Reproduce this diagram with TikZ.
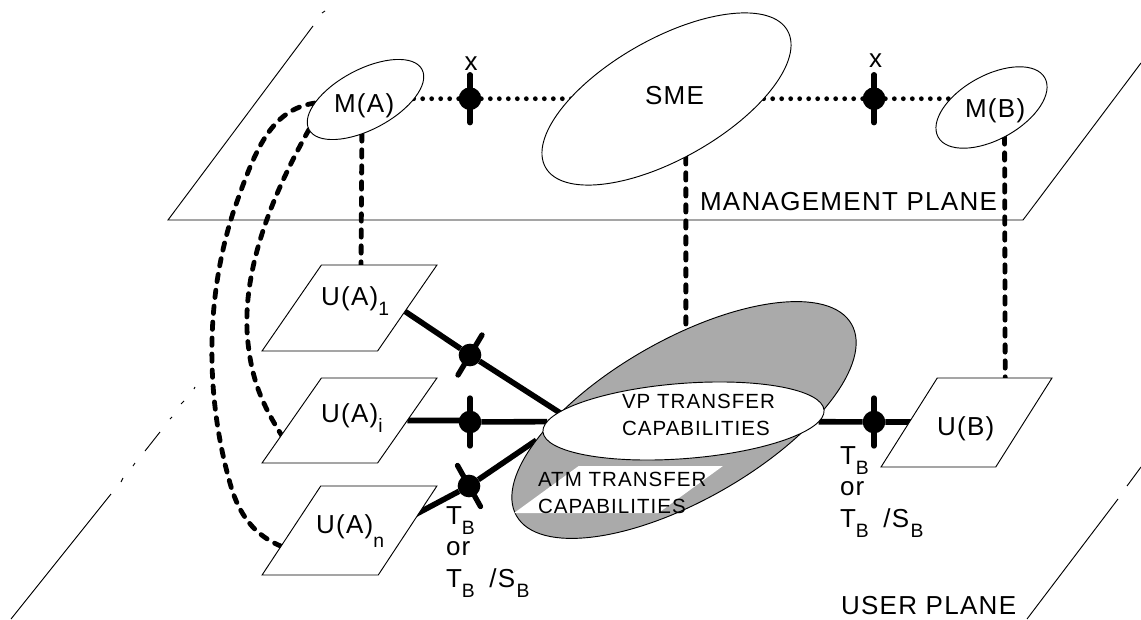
\documentclass[tikz,border=0pt]{standalone}
\usepackage{fontspec}
\setmainfont{Liberation Sans}[LetterSpace=5]
\usetikzlibrary{shapes.geometric, backgrounds}
\newcommand{\lowtxt}[2]{\smash{\raisebox{-#1}{\fontsize{14.5}{14.5}\selectfont #2}}}
\newcommand{\tbtxt}{T\lowtxt{7.5pt}{B}}

\begin{document}
\begin{tikzpicture}[x=0.75pt, y=-0.75pt,
  oval/.style={ellipse, draw, fill=white, line width=0.7pt, inner sep=0pt, outer sep=0pt},
  slab/.style={trapezium, draw, fill=white, line width=0.7pt, inner sep=0pt, outer sep=0pt, trapezium stretches=true},
  dot/.style={circle, fill=black, minimum size=17pt, inner sep=0pt, outer sep=0pt},
  lbl/.style={inner sep=0pt, outer sep=0pt, anchor=base west, align=left, font=\fontsize{19.5}{23.6}\selectfont},
  lblsmall/.style={inner sep=0pt, outer sep=0pt, anchor=base west, align=left, font=\fontsize{15.4}{19.8}\selectfont},
  planeline/.style={line width=0.7pt},
  dashline/.style={line width=3.6pt, line cap=round, dash pattern=on 5.5pt off 6.5pt},
  dotline/.style={line width=3.6pt, line cap=round, dash pattern=on 0pt off 6.75pt},
  heavy/.style={line width=4.2pt},
  tick/.style={line width=4pt, line cap=round}]
  \definecolor{grisCap}{RGB}{170,170,170}
  \useasboundingbox (0,0) rectangle (1141,620);

  % planes
  \draw[planeline] (325,11) -- (322,13);
  \draw[planeline] (1141,63) -- (1023,220) -- (168,220) -- (313,26);
  \draw[planeline] (11,619) -- (111,494);
  \foreach \xa/\ya/\xb/\yb in {121/482/123/478, 133/466/135/463, 145/451/160/432, 170/419/172/417, 181/404/184/401, 194/389/195/387}
    \draw[planeline] (\xa,\ya) -- (\xb,\yb);
  \draw[planeline] (1027,619) -- (1118,499);
  \draw[planeline] (1127,486) -- (1141,467);

  % management plane
  \node[oval, rotate=28, minimum width=96pt, minimum height=45pt] (ma) at (365.5,99.5) {};
  \node[oval, rotate=29.5, minimum width=208.5pt, minimum height=90pt] (sme) at (666.5,99) {};
  \node[oval, rotate=29, minimum width=91.5pt, minimum height=48pt] (mb) at (991.5,107.5) {};
  \node[dot] (xa) at (470,98.7) {};
  \node[dot] (xb) at (874,98.7) {};

  % user plane
  \node[slab, trapezium left angle=45, trapezium right angle=135, minimum width=131.25pt, minimum height=64.5pt] (uaone) at (349.5,308) {\phantom{x}};
  \node[slab, trapezium left angle=45, trapezium right angle=135, minimum width=131.25pt, minimum height=63.75pt] (uai) at (349.5,420.5) {\phantom{x}};
  \node[slab, trapezium left angle=46, trapezium right angle=134, minimum width=131.25pt, minimum height=66.75pt] (uan) at (349.5,530.5) {\phantom{x}};
  \node[slab, trapezium left angle=47.7, trapezium right angle=132.3, minimum width=128.25pt, minimum height=66.75pt] (ub) at (966.5,422.5) {\phantom{x}};
  \node[dot] (dota) at (470,355) {};
  \node[dot] (doti) at (470,422) {};
  \node[dot] (dotn) at (469,486) {};
  \node[dot] (dotb) at (874,422) {};
  \coordinate (uaoneE) at (397,306);
  \coordinate (uanE) at (405,520);
  \coordinate (uanW) at (283,547);
  \coordinate (uaiW) at (284,439);

  % transfer capabilities
  \node[oval, fill=grisCap, rotate=29.8, minimum width=289.5pt, minimum height=120pt] (atm) at (684,420) {};
  \node[trapezium, fill=white, inner sep=0pt, trapezium stretches=true, trapezium left angle=52.5, trapezium right angle=127.5, minimum width=156.75pt, minimum height=35.25pt] (atmbox) at (618.5,489.5) {\phantom{x}};
  \node[oval, rotate=4.4, minimum width=211.5pt, minimum height=56.4pt] (vp) at (683.5,421) {};

  % connectors, under the nodes
  \begin{scope}[on background layer]
    \draw[dotline] (xa) -- (xa -| ma);
    \draw[dotline] (xa) -- (xa -| sme);
    \draw[dotline] (xb) -- (xb -| sme);
    \draw[dotline] (xb) -- (xb -| mb);

    \foreach \n in {xa,xb,doti,dotb}
      \draw[tick] (\n.center) ++(0,-24) -- ++(0,48);
    \draw[tick] (dota.center) ++(12,-20) -- ++(-24,40);
    \draw[tick] (dotn.center) ++(-11.5,-20.5) -- ++(23,41);

    \draw[dashline] (ma.236) -- (uaone.75);
    \draw[dashline] (sme.259) -- (atm.59.6);
    \draw[dashline] (mb.265.5) -- (ub.49.4);
    \draw[dashline] (ma.156) .. controls (270,110) and (255,150) .. (233,213) .. controls (205,300) and (205,400) .. (232,490) .. controls (242,520) and (258,537) .. (uanW);
    \draw[dashline] (ma.180) .. controls (275,190) and (240,270) .. (248,343) .. controls (252,380) and (262,405) .. (uaiW);

    \draw[heavy] (uaoneE) -- (dota) -- (atm.147);
    \draw[heavy] (uai) -- (uai -| doti) -- (doti) -- (vp);
    \draw[heavy] (uanE) -- (dotn) -- (atm.158);
    \draw[heavy] (vp) -- (dotb) -- (dotb -| ub);
  \end{scope}

  % labels
  \node[lbl] (lblma) at (334,113) {M\kern1pt(A)};
  \node[lbl] (lblsme) at (645,105) {SME};
  \node[lbl] (lblmb) at (965,118) {M\kern1pt(B)};
  \node[lbl] (lblxa) at (464.5,71) {x};
  \node[lbl] (lblxb) at (869,68) {x};
  \node[lbl] (lblmp) at (700,211) {MANAGEMENT PLANE};
  \node[lbl] (lblup) at (841,614) {USER PLANE};
  \node[lbl] (lbluaone) at (321,305) {U\kern1pt(A)\lowtxt{8pt}{1}};
  \node[lbl] (lbluai) at (321,422) {U\kern1pt(A)\lowtxt{8pt}{i}};
  \node[lbl] (lbluan) at (316,533) {U\kern1pt(A)\lowtxt{11pt}{n}};
  \node[lbl] (lblub) at (937,435) {U\kern1pt(B)};
  \node[lblsmall] (lblvp) at (622,435) {VP TRANSFER\\CAPABILITIES};
  \node[lblsmall] (lblatm) at (538,513) {ATM TRANSFER\\CAPABILITIES};
  \node[lbl] (lbltba) at (446,587) {\tbtxt\\or\\\tbtxt\hspace{11pt}/S\hspace{1pt}\lowtxt{7.5pt}{B}};
  \node[lbl] (lbltbb) at (840,527) {\tbtxt\\or\\\tbtxt\hspace{11pt}/S\hspace{1pt}\lowtxt{7.5pt}{B}};
\end{tikzpicture}
\end{document}
